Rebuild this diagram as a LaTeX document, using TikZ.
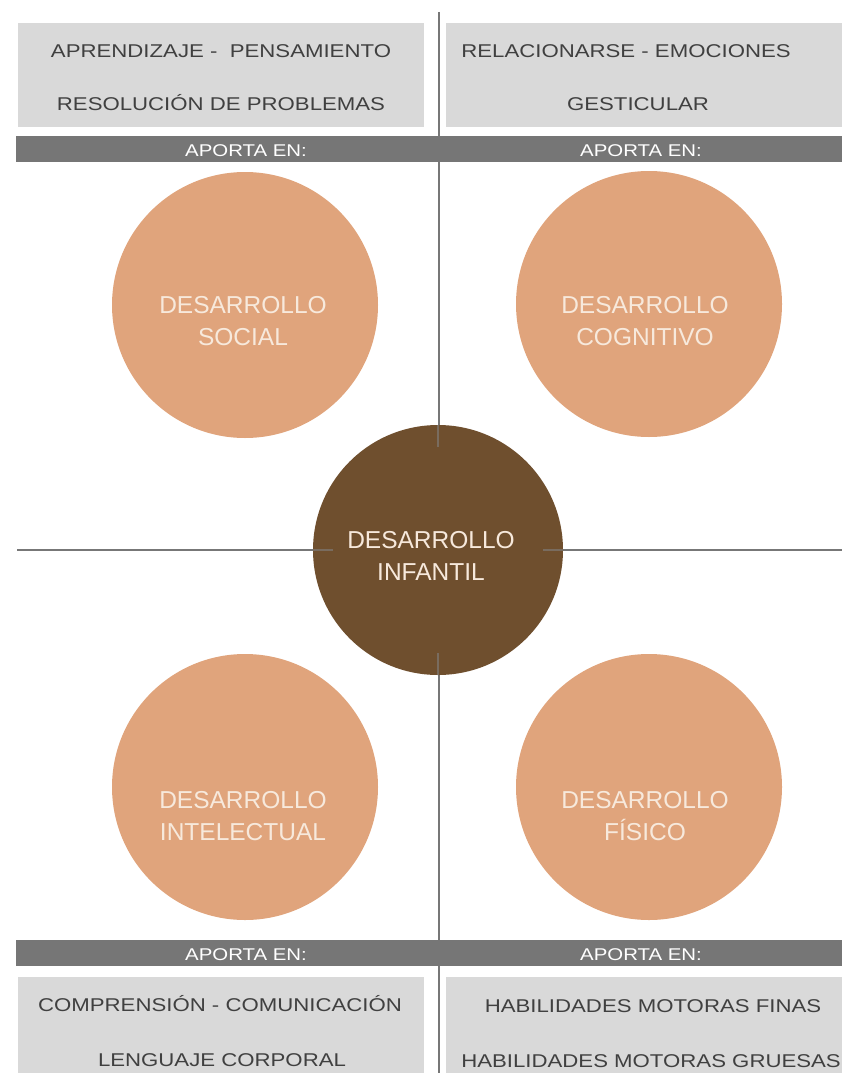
\documentclass[tikz,border=0pt]{standalone}
\usepackage{fontspec}
\setmainfont{Liberation Sans}
\newfontfamily\widefont[FakeStretch=1.2]{Liberation Sans}
\usetikzlibrary{positioning}
\definecolor{aparea}{HTML}{D9D9D9}
\definecolor{apbar}{HTML}{767676}
\definecolor{apline}{HTML}{777777}
\definecolor{aptext}{HTML}{404040}
\definecolor{appeach}{HTML}{E0A47C}
\definecolor{apbrown}{HTML}{6F4F2E}
\definecolor{apcream}{HTML}{F7E9DC}

\begin{document}
\begin{tikzpicture}[x=1pt, y=-1pt,
  area/.style={rectangle, fill=aparea, inner sep=0pt, minimum width=406pt, minimum height=104pt},
  bar/.style={rectangle, fill=apbar, inner sep=0pt, minimum width=826pt, minimum height=26pt},
  item/.style={anchor=base, inner sep=0pt, text=aptext, font=\widefont\fontsize{18.5}{22}\selectfont},
  tag/.style={anchor=base, inner sep=0pt, text=white, font=\widefont\fontsize{17}{20}\selectfont},
  dcirc/.style={circle, fill=appeach, inner sep=0pt, minimum size=266pt},
  corecirc/.style={circle, fill=apbrown, inner sep=0pt, minimum size=250pt},
  circtext/.style={align=center, inner sep=0pt, text=apcream, font=\fontsize{24.5}{31.5}\selectfont},
  axis/.style={draw=apline, line width=2.2pt},
  tick/.style={draw=gray, line width=2pt, opacity=0.6}]
  \useasboundingbox (0,0) rectangle (842,1073);

  % cross lines
  \coordinate (vtop) at (439,12);
  \coordinate (vbot) at (439,1073);
  \coordinate (hleft) at (17,550);
  \coordinate (hright) at (842,550);
  \draw[axis] (vtop) -- (vbot);
  \draw[axis] (hleft) -- (hright);

  % top boxes
  \node[area] (tlbox) at (221,75) {};
  \node[area] (trbox) at (649,75) {};
  \node[item] (tl1) at (221,58) {APRENDIZAJE -\ \ PENSAMIENTO};
  \node[item] (tl2) at (221,110) {RESOLUCIÓN DE PROBLEMAS};
  \node[item] (tr1) at (626,58) {RELACIONARSE - EMOCIONES};
  \node[item] (tr2) at (638,110) {GESTICULAR};
  \node[bar] (topbar) at (429,149) {};
  \node[tag] (toptagl) at (246,156) {APORTA EN:};
  \node[tag] (toptagr) at (641,156) {APORTA EN:};

  % circles
  \node[dcirc] (social) at (245,305) {};
  \node[dcirc] (cognitivo) at (649,304) {};
  \node[dcirc] (intelectual) at (245,787) {};
  \node[dcirc] (fisico) at (649,787) {};
  \node[circtext] (socialtxt) at (243,321) {DESARROLLO\\SOCIAL};
  \node[circtext] (cognitivotxt) at (645,321) {DESARROLLO\\COGNITIVO};
  \node[circtext] (intelectualtxt) at (243,816) {DESARROLLO\\INTELECTUAL};
  \node[circtext] (fisicotxt) at (645,816) {DESARROLLO\\FÍSICO};

  \node[corecirc] (core) at (438,550) {};
  \node[circtext] (coretxt) at (431,556) {DESARROLLO\\INFANTIL};
  \draw[tick] (core.north) -- ++(0,22);
  \draw[tick] (core.south) -- ++(0,-22);
  \draw[tick] (core.west) -- ++(20,0);
  \draw[tick] (core.east) -- ++(-20,0);

  % bottom boxes
  \node[bar] (botbar) at (429,953) {};
  \node[tag] (bottagl) at (246,960) {APORTA EN:};
  \node[tag] (bottagr) at (641,960) {APORTA EN:};
  \node[area, minimum height=98pt] (blbox) at (221,1026) {};
  \node[area, minimum height=98pt] (brbox) at (649,1026) {};
  \node[item] (bl1) at (220,1011) {COMPRENSIÓN - COMUNICACIÓN};
  \node[item] (bl2) at (222,1066) {LENGUAJE CORPORAL};
  \node[item] (br1) at (653,1012) {HABILIDADES MOTORAS FINAS};
  \node[item, anchor=base east] (br2) at (841,1067) {HABILIDADES MOTORAS GRUESAS};
\end{tikzpicture}
\end{document}
